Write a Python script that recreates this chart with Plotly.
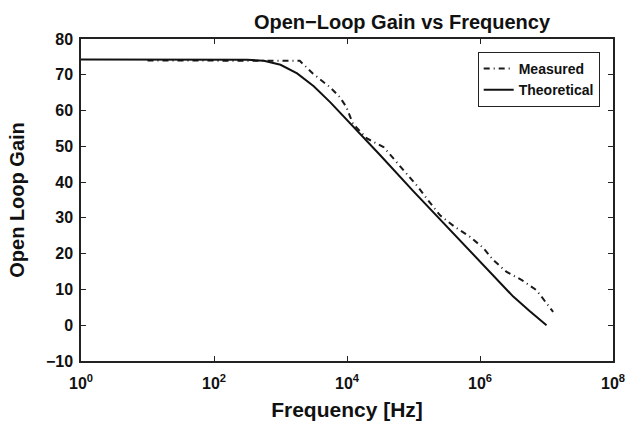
import plotly.graph_objects as go

# Theoretical open-loop gain (log10 frequency, gain)
theo_logf = [0, 1, 2, 2.5, 2.75, 3.0, 3.25, 3.5, 3.75, 4.0, 4.5, 5.0, 5.5, 6.0, 6.25, 6.5, 6.75, 7.0]
theo_gain = [74.3, 74.3, 74.3, 74.2, 73.9, 72.8, 70.4, 66.8, 62.3, 57.4, 47.5, 37.4, 27.5, 17.8, 12.8, 8.0, 3.9, 0.0]

# Measured open-loop gain
meas_logf = [1.0, 2.0, 3.0, 3.29, 3.49, 3.74, 3.89, 3.99, 4.09, 4.30, 4.55, 4.72, 4.9, 5.07, 5.22, 5.4, 5.62, 5.85, 6.05, 6.2, 6.4, 6.63, 6.85, 7.03, 7.1]
meas_gain = [74.0, 74.0, 74.0, 73.9, 70.3, 66.6, 63.8, 61.0, 56.3, 52.2, 49.8, 46.1, 42.4, 38.6, 34.9, 30.7, 27.5, 24.7, 21.6, 18.2, 14.9, 12.6, 9.8, 5.6, 3.7]

x_tickvals = [1, 1e2, 1e4, 1e6, 1e8]
x_ticktext = ["10<sup>0</sup>", "10<sup>2</sup>", "10<sup>4</sup>", "10<sup>6</sup>", "10<sup>8</sup>"]
y_tickvals = [-10, 0, 10, 20, 30, 40, 50, 60, 70, 80]
y_ticktext = ["\u221210", "0", "10", "20", "30", "40", "50", "60", "70", "80"]

FONT = "Liberation Sans, Arial, sans-serif"

fig = go.Figure()
fig.add_trace(go.Scatter(
    x=[10 ** v for v in meas_logf], y=meas_gain, mode="lines", name="<b>Measured</b>",
    line=dict(color="#1a1a1a", width=2, dash="6px,4px,1px,4px"),
))
fig.add_trace(go.Scatter(
    x=[10 ** v for v in theo_logf], y=theo_gain, mode="lines", name="<b>Theoretical</b>",
    line=dict(color="#111111", width=2),
))

axis_common = dict(
    showline=True, linecolor="#222", linewidth=1.5, mirror="ticks",
    ticks="inside", ticklen=5, tickcolor="#222", tickwidth=1,
    showgrid=False, zeroline=False, automargin=False,
    tickfont=dict(family=FONT, size=16, color="#111"),
)

fig.update_layout(
    width=627, height=425,
    margin=dict(l=81, r=14, t=39, b=64),
    paper_bgcolor="white", plot_bgcolor="white",
    font=dict(family=FONT, color="#111"),
    title=dict(text="<b>Open\u2212Loop Gain vs Frequency</b>", x=402 / 627, xanchor="center",
               y=1 - 22 / 425, yanchor="middle", font=dict(family=FONT, size=20, color="#111")),
    xaxis=dict(type="log", range=[0, 8], tickvals=x_tickvals,
               ticktext=["<b>%s</b>" % t for t in x_ticktext],
               ticklabelstandoff=7,
               title=dict(text="<b>Frequency [Hz]</b>", font=dict(family=FONT, size=21), standoff=11),
               **axis_common),
    yaxis=dict(range=[-10, 80], tickvals=y_tickvals,
               ticktext=["<b>%s</b>" % t for t in y_ticktext],
               ticklabelstandoff=3,
               title=dict(text="<b>Open Loop Gain</b>", font=dict(family=FONT, size=20), standoff=16),
               **axis_common),
    legend=dict(x=0.975, y=0.96, xanchor="right", yanchor="top",
                bgcolor="white", bordercolor="#222", borderwidth=1,
                font=dict(family=FONT, size=14, color="#111"),
                tracegroupgap=0, itemwidth=30),
    showlegend=True,
)

fig.write_html("out.html", config={"displayModeBar": False},
               post_script="document.body.style.margin='0';")
